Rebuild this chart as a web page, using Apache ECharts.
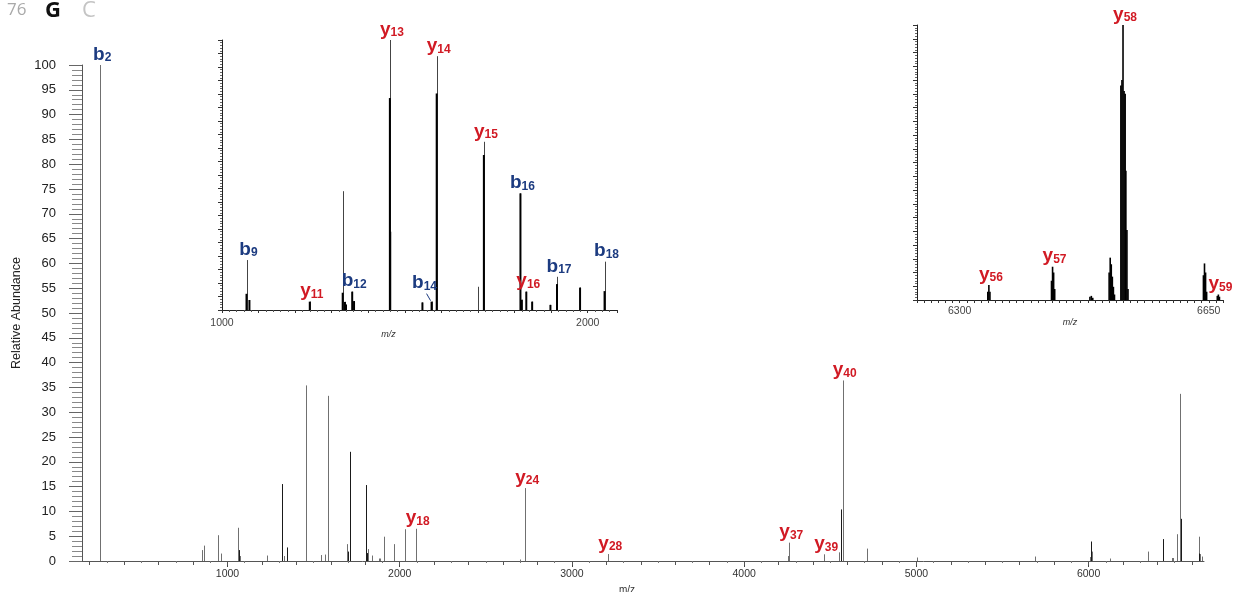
<!DOCTYPE html>
<html><head><meta charset="utf-8">
<script src="https://cdn.jsdelivr.net/npm/echarts@6/dist/echarts.min.js"></script>
<style>html,body{margin:0;padding:0;background:#fff}#c{width:1242px;height:592px}</style>
</head><body><div id="c"></div>
<script>
// ---------- main spectrum ----------
const mainMz  = [261, 851, 861, 946, 963, 1060, 1074, 1232, 1317, 1329, 1348, 1453, 1542, 1565, 1583, 1693, 1710, 1803, 1818, 1838, 1882, 1888, 1908, 1966, 2033, 2093, 2699, 2728, 3211, 4254, 4262, 4465, 4548, 4553, 4572, 4716, 5002, 5688, 6008, 6013, 6017, 6127, 6345, 6432, 6483, 6490, 6514, 6529, 6641, 6649, 6660];
const mainInt = [100, 2.2, 3.1, 5.2, 1.5, 6.7, 1.0, 1.1, 15.5, 1.0, 2.7, 35.4, 1.2, 1.3, 33.3, 3.4, 22, 15.3, 2.4, 1.1, 0.5, 0.5, 4.9, 3.4, 6.4, 6.5, 0.3, 14.7, 1.4, 1.0, 3.7, 1.35, 1.7, 1.7, 36.4, 2.5, 0.7, 0.9, 0.8, 3.9, 1.9, 0.5, 1.9, 4.4, 0.6, 0.6, 5.4, 33.7, 4.9, 1.4, 0.9];
const mainDarkMz  = [1064, 1317, 1348, 1699, 1710, 1803, 1807, 4565, 6013, 6432, 6535, 6641];
const mainDarkInt = [2.2, 15.5, 2.7, 1.9, 22, 15.3, 1.6, 10.4, 3.9, 4.4, 8.5, 1.5];
const mainLabelMz   = [261, 2093, 2728, 3211, 4262, 4465, 4572];
const mainLabelInt  = [100, 6.5, 14.7, 1.4, 3.7, 1.35, 36.4];
const mainLabelName = ['b2', 'y18', 'y24', 'y28', 'y37', 'y39', 'y40'];
const mainXTickLabels = [1000, 2000, 3000, 4000, 5000, 6000];
const mainYTickLabels = [0, 5, 10, 15, 20, 25, 30, 35, 40, 45, 50, 55, 60, 65, 70, 75, 80, 85, 90, 95, 100];

// ---------- inset 1 (1000-2000) ----------
const inset1Mz   = [1067, 1075, 1240, 1330, 1336, 1339, 1356, 1361, 1459, 1460, 1548, 1573, 1587, 1700, 1716, 1816, 1819, 1832, 1848, 1898, 1916, 1979, 2046];
const inset1Tip  = [18.5, 3.7, 3.1, 44, 3, 2, 6.8, 3.3, 100, 29, 2.8, 3.1, 94, 8.6, 62.3, 43.2, 3.8, 6.8, 3.1, 1.9, 12.3, 8.3, 17.9];
const inset1Body = [6, 3.7, 3.1, 6.4, 3, 2, 6.8, 3.3, 78.5, 29, 2.8, 3.1, 80.2, 0, 57.4, 43.2, 3.8, 6.8, 3.1, 1.9, 9.6, 8.3, 7];
const inset1LabelMz   = [1067, 1240, 1356, 1459, 1573, 1587, 1716, 1816, 1832, 1916, 2046];
const inset1LabelInt  = [18.5, 3.1, 6.8, 100, 3.1, 94, 62.3, 43.2, 6.8, 12.3, 17.9];
const inset1LabelName = ['b9', 'y11', 'b12', 'y13', 'b14', 'y14', 'y15', 'b16', 'y16', 'b17', 'b18'];
const inset1TickLabels = [1000, 2000];

// ---------- inset 2 (6250-6670) ----------
const inset2Mz  = [6339.5, 6341, 6342.5, 6429, 6430.5, 6432, 6433.5, 6483, 6485, 6487, 6510, 6511.5, 6513, 6514.5, 6516, 6517.5, 6526.5, 6528, 6529.5, 6531, 6532.5, 6533.5, 6535, 6536.5, 6642.5, 6644, 6645.5, 6647, 6662, 6663.5, 6665];
const inset2Int = [3, 5.5, 3, 7, 12.1, 10, 4, 1.2, 1.5, 0.8, 10, 15.4, 13, 8.5, 4.8, 2, 78, 80, 100, 76, 75, 47, 25.5, 4, 9, 13.3, 10, 3, 1.5, 2, 1.2];
const inset2LabelMz   = [6341, 6430.5, 6529.5, 6663.5];
const inset2LabelInt  = [5.5, 12.1, 100, 2];
const inset2LabelName = ['y56', 'y57', 'y58', 'y59'];
const inset2TickLabels = [6300, 6650];

const leaderIons = ['b14'];
const FONT = '"Liberation Sans", Arial, sans-serif';
const BLUE = '#1c3b80', RED = '#d11a24';

function sticks(xi, yi, mz, vals, color, width, z) {
  return {
    type: 'custom', xAxisIndex: xi, yAxisIndex: yi, silent: true, clip: false, z: z || 2,
    data: mz.map((m, i) => [m, vals[i]]),
    encode: { x: 0, y: 1 },
    renderItem(params, api) {
      const v = api.value(1);
      if (!v) return null;
      const p0 = api.coord([api.value(0), 0]);
      const p1 = api.coord([api.value(0), v]);
      const x = width <= 1 ? Math.round(p0[0]) + 0.5 : p0[0];
      return { type: 'line', shape: { x1: x, y1: p0[1], x2: x, y2: p1[1] },
               style: { stroke: color, lineWidth: width } };
    }
  };
}

function labels(xi, yi, mz, vals, names) {
  return {
    type: 'custom', xAxisIndex: xi, yAxisIndex: yi, silent: true, clip: false, z: 10,
    data: mz.map((m, i) => [m, vals[i]]),
    encode: { x: 0, y: 1 },
    renderItem(params, api) {
      const p = api.coord([api.value(0), api.value(1)]);
      const name = names[params.dataIndex];
      const ion = name[0], num = name.slice(1);
      const col = ion === 'b' ? BLUE : RED;
      const lead = leaderIons.indexOf(name) >= 0;
      const tx = p[0] + 2 + (lead ? -9 : 0);
      const ty = p[1] - 1 - (lead ? 8 : 0);
      const children = [{
        type: 'text', x: tx, y: ty,
        style: {
          text: '{m|' + ion + '}{s|' + num + '}',
          align: 'center', verticalAlign: 'bottom',
          rich: {
            m: { fill: col, fontSize: 19, fontWeight: 'bold', fontFamily: FONT, lineHeight: 20, verticalAlign: 'bottom' },
            s: { fill: col, fontSize: 12, fontWeight: 'bold', fontFamily: FONT, lineHeight: 10, verticalAlign: 'bottom' }
          }
        }
      }];
      if (lead) {
        children.push({ type: 'line', shape: { x1: p[0] - 5, y1: p[1] - 8, x2: p[0] - 1, y2: p[1] - 1 },
                        style: { stroke: BLUE, lineWidth: 1 } });
      }
      return { type: 'group', children };
    }
  };
}

const main100 = [], main200 = [];
for (let v = 200; v <= 6600; v += 100) { (v % 200 === 0 ? main200 : main100).push(v); }

const mainMin = 155, mainMax = 6670;
function mainX(extra) {
  return Object.assign({
    gridIndex: 0, type: 'value', min: mainMin, max: mainMax, position: 'bottom',
    splitLine: { show: false }, axisLine: { show: false }, axisLabel: { show: false }
  }, extra);
}

const option = {
  animation: false,
  backgroundColor: '#fff',
  graphic: [
    { type: 'text', left: 7, top: 2, style: { text: '76', fontSize: 17, fontFamily: '"Open Sans", sans-serif', fill: '#a9a9a9' } },
    { type: 'text', left: 45, top: 0, style: { text: 'G', fontSize: 22, fontWeight: 'bold', fontFamily: '"Open Sans", sans-serif', fill: '#111' } },
    { type: 'text', left: 82, top: 0, style: { text: 'C', fontSize: 22, fontFamily: '"Open Sans", sans-serif', fill: '#c4c4c4' } }
  ],
  grid: [
    { left: 82, top: 65, width: 1122, height: 496, outerBoundsMode: 'none', containLabel: false },
    { left: 222, top: 40, width: 395, height: 270, outerBoundsMode: 'none', containLabel: false },
    { left: 917, top: 25, width: 306, height: 275, outerBoundsMode: 'none', containLabel: false }
  ],
  xAxis: [
    mainX({
      axisLine: { show: true, lineStyle: { color: '#555', width: 1 } },
      axisTick: { show: true, length: 6, customValues: mainXTickLabels, lineStyle: { color: '#444' } },
      axisLabel: { show: true, customValues: mainXTickLabels, fontSize: 10.5, color: '#333', margin: 8, fontFamily: FONT,
                   formatter: v => String(v) },
      name: 'm/z', nameLocation: 'middle', nameGap: 20,
      nameTextStyle: { fontSize: 10, color: '#333', fontFamily: FONT, padding: [0, 32, 0, 0] }
    }),
    mainX({ axisTick: { show: true, length: 4, customValues: main200, lineStyle: { color: '#555' } } }),
    mainX({ axisTick: { show: true, length: 2, customValues: main100, lineStyle: { color: '#777' } } }),
    {
      gridIndex: 1, type: 'value', min: 1000, max: 2080, interval: 100,
      splitLine: { show: false },
      axisLine: { show: true, lineStyle: { color: '#222', width: 1 } },
      axisTick: { show: true, length: 3, lineStyle: { color: '#333' } },
      minorTick: { show: true, splitNumber: 5, length: 2, lineStyle: { color: '#555' } },
      axisLabel: { fontSize: 10.5, color: '#444', margin: 8, fontFamily: FONT,
                   formatter: v => inset1TickLabels.indexOf(v) >= 0 ? String(v) : '' },
      name: 'm/z', nameLocation: 'middle', nameGap: 18,
      nameTextStyle: { fontSize: 9, fontStyle: 'italic', color: '#333', fontFamily: FONT, padding: [0, 62, 0, 0] }
    },
    {
      gridIndex: 2, type: 'value', min: 6240, max: 6670, interval: 10,
      splitLine: { show: false },
      axisLine: { show: true, lineStyle: { color: '#222', width: 1 } },
      axisTick: { show: true, length: 3, lineStyle: { color: '#333' } },
      axisLabel: { fontSize: 10.5, color: '#444', margin: 6, fontFamily: FONT,
                   formatter: v => inset2TickLabels.indexOf(v) >= 0 ? String(v) : '' },
      name: 'm/z', nameLocation: 'middle', nameGap: 13,
      nameTextStyle: { fontSize: 9, fontStyle: 'italic', color: '#333', fontFamily: FONT }
    }
  ],
  yAxis: [
    {
      gridIndex: 0, type: 'value', min: 0, max: 100, interval: 5,
      splitLine: { show: false },
      axisLine: { show: true, lineStyle: { color: '#555', width: 1 } },
      axisTick: { show: true, length: 13, lineStyle: { color: '#666' } },
      minorTick: { show: true, splitNumber: 5, length: 10, lineStyle: { color: '#888' } },
      axisLabel: { fontSize: 13, color: '#222', margin: 26, fontFamily: FONT,
                   formatter: v => mainYTickLabels.indexOf(v) >= 0 ? String(v) : '' },
      name: 'Relative Abundance', nameLocation: 'middle', nameGap: 58,
      nameTextStyle: { fontSize: 12.5, color: '#222', fontFamily: FONT }
    },
    {
      gridIndex: 1, type: 'value', min: 0, max: 100, interval: 5,
      splitLine: { show: false },
      axisLine: { show: true, lineStyle: { color: '#222', width: 1 } },
      axisTick: { show: true, length: 4, lineStyle: { color: '#333' } },
      minorTick: { show: true, splitNumber: 5, length: 2, lineStyle: { color: '#666' } },
      axisLabel: { show: false }
    },
    {
      gridIndex: 2, type: 'value', min: 0, max: 100, interval: 5,
      splitLine: { show: false },
      axisLine: { show: true, lineStyle: { color: '#222', width: 1 } },
      axisTick: { show: true, length: 4, lineStyle: { color: '#333' } },
      minorTick: { show: true, splitNumber: 5, length: 2, lineStyle: { color: '#666' } },
      axisLabel: { show: false }
    }
  ],
  series: [
    sticks(0, 0, mainMz, mainInt, '#707070', 1, 2),
    sticks(0, 0, mainDarkMz, mainDarkInt, '#1a1a1a', 1, 3),
    labels(0, 0, mainLabelMz, mainLabelInt, mainLabelName),
    sticks(3, 1, inset1Mz, inset1Tip, '#444', 1, 2),
    sticks(3, 1, inset1Mz, inset1Body, '#000', 2, 3),
    labels(3, 1, inset1LabelMz, inset1LabelInt, inset1LabelName),
    sticks(4, 2, inset2Mz, inset2Int, '#000', 1.6, 3),
    labels(4, 2, inset2LabelMz, inset2LabelInt, inset2LabelName)
  ]
};

const chart = echarts.init(document.getElementById('c'), null, { renderer: 'canvas' });
chart.setOption(option);
</script>
</body></html>
